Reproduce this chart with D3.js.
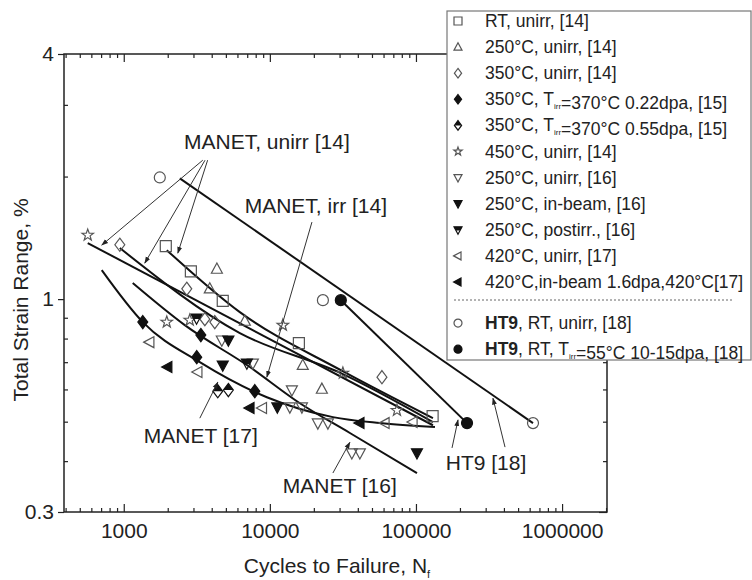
<!DOCTYPE html>
<html>
<head>
<meta charset="utf-8">
<script src="https://cdn.jsdelivr.net/npm/d3@7"></script>
<style>
  body { margin: 0; background: #fff; }
  text { font-family: "Liberation Sans", Arial, sans-serif; }
</style>
</head>
<body>
<div id="chart"></div>
<script>
// values: [cycles to failure, total strain range %]
var rtUnirr14 = [[1940, 1.35], [2880, 1.17], [4760, 0.99], [15800, 0.78], [130000, 0.516]]
var t250Unirr14 = [[4340, 1.185], [3880, 1.06], [6740, 0.883], [16800, 0.688], [22700, 0.601]]
var t350Unirr14 = [[940, 1.36], [2700, 1.06], [3590, 0.893], [4200, 0.878], [58500, 0.643]]
var t350Irr022 = [[1350, 0.878], [3370, 0.816], [3160, 0.72], [7890, 0.594]]
var t350Irr055 = [[4400, 0.594], [5200, 0.598]]
var t450Unirr14 = [[567, 1.436], [1970, 0.878], [2830, 0.888], [12270, 0.863], [31600, 0.658], [74100, 0.533]]
var t250Unirr16 = [[4690, 0.793], [7650, 0.696], [14150, 0.598], [16570, 0.543], [13700, 0.543],
  [21300, 0.496], [24960, 0.496], [36400, 0.419], [41300, 0.419]]
var t250InBeam16 = [[5200, 0.793], [4760, 0.688], [11250, 0.543], [101600, 0.419]]
var t250Postirr16 = [[3150, 0.898], [6960, 0.696]]
var t420Unirr17 = [[1507, 0.784], [3213, 0.662], [8890, 0.54], [61350, 0.496], [95400, 0.499]]
var t420InBeam17 = [[2000, 0.681], [7300, 0.54], [41300, 0.496]]
var ht9Unirr = [[1765, 1.99], [23070, 0.994], [632500, 0.496]]
var ht9Irr = [[30600, 0.994], [223600, 0.496]]

// fitted lines
var fitHT9Unirr = [[2420, 1.98], [632500, 0.496]]
var fitHT9Irr = [[30600, 0.994], [223600, 0.496]]
var fit450 = [[567, 1.373], [130700, 0.49]]
var fit350 = [[940, 1.335], [6230, 0.825], [30600, 0.658], [130700, 0.499]]
var fitRT = [[1970, 1.319], [6230, 0.929], [30600, 0.669], [130700, 0.51]]
var fitManet17 = [[707, 1.178], [1350, 0.878], [3316, 0.70], [9540, 0.574], [27000, 0.513], [56700, 0.496], [134900, 0.485]]
var fitManet16 = [[1152, 1.095], [2617, 0.863], [7295, 0.681], [16055, 0.555], [35300, 0.469], [101600, 0.374]]

var legendLabels = [
  'RT, unirr, [14]',
  '250°C, unirr, [14]',
  '350°C, unirr, [14]',
  '350°C, T_{irr}=370°C 0.22dpa, [15]',
  '350°C, T_{irr}=370°C 0.55dpa, [15]',
  '450°C, unirr, [14]',
  '250°C, unirr, [16]',
  '250°C, in-beam, [16]',
  '250°C, postirr., [16]',
  '420°C, unirr, [17]',
  '420°C,in-beam 1.6dpa,420°C[17]',
  '*HT9*, RT, unirr, [18]',
  '*HT9*, RT, T_{irr}=55°C 10-15dpa, [18]'
]

var xMajor = [1000, 10000, 100000, 1000000]
var yMajor = [0.3, 1, 4]
var yMinor = [0.4, 0.5, 0.6, 0.7, 0.8, 0.9, 2, 3]

// annotation texts [label, N, S] and arrows [[fromN, fromS], [toN, toS]]
var notes = [
  ['MANET, unirr [14]', 9540, 2.336],
  ['MANET, irr [14]', 20650, 1.626],
  ['MANET [17]', 3368, 0.443],
  ['MANET [16]', 30100, 0.334],
  ['HT9 [18]', 301700, 0.38]
]
var arrows = [
  [[3475, 2.194], [707, 1.357]],
  [[3600, 2.194], [1393, 1.226]],
  [[3750, 2.194], [2344, 1.297]],
  [[19410, 1.546], [9540, 0.643]],
  [[3316, 0.51], [4404, 0.625]],
  [[27000, 0.374], [35300, 0.445]],
  [[176500, 0.431], [194000, 0.505]],
  [[407000, 0.433], [336500, 0.571]]
]

var W = 752, H = 580
var L = 64, R = 607, T = 54, B = 512

var svg = d3.select('#chart').append('svg')
  .attr('width', W).attr('height', H)

var x = d3.scaleLog().domain([390, 2.03e6]).range([L, R])
var y = d3.scaleLog().domain([0.3, 4]).range([B, T])

var series = [
  { pts: rtUnirr14, shape: 'square', fill: 'open' },
  { pts: t250Unirr14, shape: 'up', fill: 'open' },
  { pts: t350Unirr14, shape: 'diamond', fill: 'open' },
  { pts: t350Irr022, shape: 'diamond', fill: 'full' },
  { pts: t350Irr055, shape: 'diamond', fill: 'half' },
  { pts: t450Unirr14, shape: 'star', fill: 'open' },
  { pts: t250Unirr16, shape: 'down', fill: 'open' },
  { pts: t250InBeam16, shape: 'down', fill: 'full' },
  { pts: t250Postirr16, shape: 'down', fill: 'half' },
  { pts: t420Unirr17, shape: 'left', fill: 'open' },
  { pts: t420InBeam17, shape: 'left', fill: 'full' },
  { pts: ht9Unirr, shape: 'circle', fill: 'open' },
  { pts: ht9Irr, shape: 'circle', fill: 'full' }
]

function markerPath(shape, r) {
  if (shape === 'square') return 'M' + (-r) + ',' + (-r) + 'h' + 2 * r + 'v' + 2 * r + 'h' + (-2 * r) + 'Z'
  if (shape === 'up') return 'M0,' + (-1.1 * r) + 'L' + r + ',' + 0.75 * r + 'L' + (-r) + ',' + 0.75 * r + 'Z'
  if (shape === 'down') return 'M0,' + 1.1 * r + 'L' + r + ',' + (-0.75 * r) + 'L' + (-r) + ',' + (-0.75 * r) + 'Z'
  if (shape === 'left') return 'M' + (-1.1 * r) + ',0L' + 0.75 * r + ',' + (-r) + 'L' + 0.75 * r + ',' + r + 'Z'
  if (shape === 'diamond') return 'M0,' + (-1.2 * r) + 'L' + 0.9 * r + ',0L0,' + 1.2 * r + 'L' + (-0.9 * r) + ',0Z'
  if (shape === 'circle') return d3.symbol(d3.symbolCircle, Math.PI * r * r)()
  if (shape === 'star') {
    var p = []
    for (var i = 0; i < 10; i++) {
      var a = -Math.PI / 2 + i * Math.PI / 5
      var rr = i % 2 ? r * 0.45 : r * 1.1
      p.push([rr * Math.cos(a), rr * Math.sin(a)])
    }
    return 'M' + p.join('L') + 'Z'
  }
}

function halfPath(shape, r) {
  if (shape === 'diamond') return 'M0,' + (-1.2 * r) + 'L' + 0.9 * r + ',0L' + (-0.9 * r) + ',0Z'
  return 'M' + (-r) + ',' + (-0.75 * r) + 'L' + r + ',' + (-0.75 * r) + 'L' + 0.5 * r + ',' + 0.175 * r + 'L' + (-0.5 * r) + ',' + 0.175 * r + 'Z'
}

function drawMarker(g, s, cx, cy, r) {
  var m = g.append('g').attr('transform', 'translate(' + cx + ',' + cy + ')')
  if (s.fill === 'half') {
    m.append('path').attr('d', halfPath(s.shape, r)).attr('fill', '#111')
  }
  m.append('path')
    .attr('d', markerPath(s.shape, r))
    .attr('fill', s.fill === 'full' ? '#111' : 'none')
    .attr('stroke', s.fill === 'open' ? '#555' : '#111')
    .attr('stroke-width', 1.2)
}

// frame
svg.append('rect')
  .attr('x', L).attr('y', T).attr('width', R - L).attr('height', B - T)
  .attr('fill', 'none').attr('stroke', '#222').attr('stroke-width', 1.5)

// minor x ticks
var xMinor = []
for (var d = 100; d <= 1e6; d *= 10) {
  for (var k = 2; k <= 9; k++) {
    if (k * d > 390 && k * d < 2.03e6) xMinor.push(k * d)
  }
}

function axisStyle(g) {
  g.select('.domain').remove()
  g.selectAll('line').attr('stroke', '#222').attr('stroke-width', 1.2)
  g.selectAll('text').attr('font-size', 21).attr('fill', '#222')
    .style('font-family', '"Liberation Sans", Arial, sans-serif')
}

svg.append('g').attr('transform', 'translate(0,' + B + ')')
  .call(d3.axisBottom(x).tickValues(xMinor).tickSize(-4).tickFormat(''))
  .call(axisStyle)
svg.append('g').attr('transform', 'translate(0,' + B + ')')
  .call(d3.axisBottom(x).tickValues(xMajor).tickSize(-8).tickPadding(11).tickFormat(d3.format('d')))
  .call(axisStyle)
svg.append('g').attr('transform', 'translate(0,' + T + ')')
  .call(d3.axisTop(x).tickValues(xMinor).tickSize(-4).tickFormat(''))
  .call(axisStyle)
svg.append('g').attr('transform', 'translate(0,' + T + ')')
  .call(d3.axisTop(x).tickValues(xMajor).tickSize(-8).tickFormat(''))
  .call(axisStyle)

svg.append('g').attr('transform', 'translate(' + L + ',0)')
  .call(d3.axisLeft(y).tickValues(yMinor).tickSize(-4).tickFormat(''))
  .call(axisStyle)
svg.append('g').attr('transform', 'translate(' + L + ',0)')
  .call(d3.axisLeft(y).tickValues(yMajor).tickSize(6).tickPadding(4).tickFormat(d => d))
  .call(axisStyle)
svg.append('g').attr('transform', 'translate(' + R + ',0)')
  .call(d3.axisRight(y).tickValues(yMinor).tickSize(-4).tickFormat(''))
  .call(axisStyle)
svg.append('g').attr('transform', 'translate(' + R + ',0)')
  .call(d3.axisRight(y).tickValues(yMajor).tickSize(-8).tickFormat(''))
  .call(axisStyle)

// axis titles
svg.append('text')
  .attr('transform', 'translate(28,' + 300 + ') rotate(-90)')
  .attr('text-anchor', 'middle').attr('font-size', 21).attr('fill', '#222')
  .text('Total Strain Range, %')

var xt = svg.append('text')
  .attr('x', 337).attr('y', 573)
  .attr('text-anchor', 'middle').attr('font-size', 21).attr('fill', '#222')
xt.append('tspan').text('Cycles to Failure, N')
xt.append('tspan').attr('font-size', 11).attr('dy', 5).text('f')

// fit lines
var line = d3.line()
  .x(d => x(d[0]))
  .y(d => y(d[1]))
  .curve(d3.curveMonotoneX)

var fits = [fitHT9Unirr, fitHT9Irr, fit450, fit350, fitRT, fitManet17, fitManet16]
fits.forEach(f => {
  svg.append('path').datum(f).attr('d', line)
    .attr('fill', 'none').attr('stroke', '#111').attr('stroke-width', 2)
})

// data markers
var mk = svg.append('g')
series.forEach(s => {
  s.pts.forEach(p => drawMarker(mk, s, x(p[0]), y(p[1]), 5.5))
})

// arrows
svg.append('defs').append('marker')
  .attr('id', 'head').attr('viewBox', '0 0 10 10')
  .attr('refX', 9).attr('refY', 5)
  .attr('markerWidth', 7).attr('markerHeight', 7)
  .attr('orient', 'auto')
  .append('path').attr('d', 'M0,1.5L10,5L0,8.5Z').attr('fill', '#222')

arrows.forEach(a => {
  svg.append('line')
    .attr('x1', x(a[0][0])).attr('y1', y(a[0][1]))
    .attr('x2', x(a[1][0])).attr('y2', y(a[1][1]))
    .attr('stroke', '#333').attr('stroke-width', 1)
    .attr('marker-end', 'url(#head)')
})

notes.forEach(n => {
  svg.append('text')
    .attr('x', x(n[1])).attr('y', y(n[2]))
    .attr('text-anchor', 'middle').attr('font-size', 21).attr('fill', '#222')
    .text(n[0])
})

// legend
var lg = svg.append('g')
lg.append('rect')
  .attr('x', 447).attr('y', 11).attr('width', 304).attr('height', 349)
  .attr('fill', '#fff').attr('stroke', '#777').attr('stroke-width', 1.2)

function richText(t, str) {
  var parts = str.split(/(_\{[^}]*\}|\*[^*]*\*)/)
  parts.forEach(p => {
    if (!p) return
    if (p[0] === '_') {
      t.append('tspan').attr('font-size', 8).attr('dy', 4).text(p.slice(2, -1))
      t.append('tspan').attr('dy', -4).text('')
    } else if (p[0] === '*') {
      t.append('tspan').attr('font-weight', 'bold').text(p.slice(1, -1))
    } else {
      t.append('tspan').text(p)
    }
  })
}

var rowY = d3.scaleLinear().domain([0, 1]).range([21, 47.1])
legendLabels.forEach((lab, i) => {
  var yy = i < 11 ? rowY(i) : rowY(i) + 15
  drawMarker(lg, series[i], 458, yy, 4)
  var t = lg.append('text').attr('x', 485).attr('y', yy + 6)
    .attr('font-size', 17.5).attr('fill', '#222')
  richText(t, lab)
})
lg.append('line')
  .attr('x1', 454).attr('x2', 734).attr('y1', 300).attr('y2', 300)
  .attr('stroke', '#666').attr('stroke-width', 1).attr('stroke-dasharray', '2,2')
</script>
</body>
</html>
